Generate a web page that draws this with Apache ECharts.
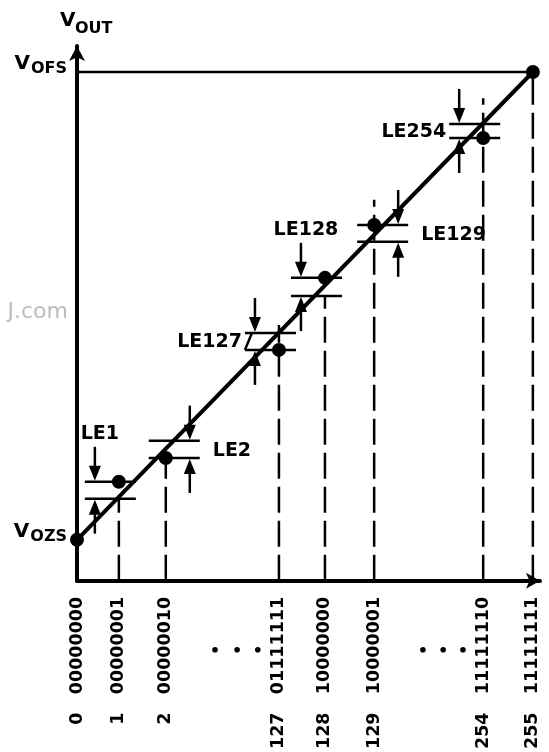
<!DOCTYPE html>
<html>
<head>
<meta charset="utf-8">
<script src="https://cdn.jsdelivr.net/npm/echarts@6/dist/echarts.min.js"></script>
<style>
  html, body { margin: 0; padding: 0; background: #fff; }
  #main { width: 549px; height: 752px; }
</style>
</head>
<body>
<div id="main"></div>
<script>
// input codes, drawn out of scale along the x axis (gaps for the skipped codes)
const codes = ['0', '1', '2', '127', '128', '129', '254', '255'];
const codeBits = ['00000000', '00000001', '00000010', '01111111', '10000000', '10000001', '11111110', '11111111'];
const codeSlot = [0, 0.91, 1.93, 4.39, 5.39, 6.46, 8.83, 9.91];
// output level of each code, 0 = VOZS, 1 = VOFS
const vOut = [0, 0.124, 0.175, 0.406, 0.560, 0.673, 0.859, 1];
// how far up each dashed guide goes
const guideTop = [0, 0.088, 0.175, 0.459, 0.521, 0.727, 0.944, 1];
// linearity errors: which code, and the ideal level it is measured against
const leNames = ['LE1', 'LE2', 'LE127', 'LE128', 'LE129', 'LE254'];
const leCodeIdx = [1, 2, 3, 4, 5, 6];
const leIdeal = [0.088, 0.212, 0.442, 0.521, 0.637, 0.889];
// the "· · ·" between code groups
const ellipsisSlot = [3.0, 3.48, 3.93, 7.52, 7.96, 8.39];

// layout of the LE annotations
const leSide = [-1, 1, -1, -1, 1, -1];
const leLabelAt = ['top', 'right', 'left', 'top', 'right', 'left'];

const FONT = 'DejaVu Sans';
const chart = echarts.init(document.getElementById('main'));

const option = {
  animation: false,
  backgroundColor: '#fff',
  grid: { left: 77, right: 9, top: 46, bottom: 171 },
  xAxis: {
    type: 'value',
    min: 0,
    max: 10.065,
    axisLine: {
      onZero: false,
      symbol: ['none', 'arrow'],
      symbolSize: [12, 14],
      lineStyle: { color: '#000', width: 4 }
    },
    axisTick: { show: false },
    splitLine: { show: false },
    axisLabel: {
      customValues: codeSlot,
      rotate: 90,
      margin: 16,
      fontFamily: FONT,
      fontWeight: 'bold',
      fontSize: 17.5,
      color: '#000',
      formatter: function (v) {
        const i = codeSlot.indexOf(v);
        return i < 0 ? '' : codes[i] + '   ' + codeBits[i];
      }
    }
  },
  yAxis: {
    type: 'value',
    min: -0.0876,
    max: 1.0556,
    axisLine: {
      show: true,
      onZero: false,
      symbol: ['none', 'arrow'],
      symbolSize: [12, 15],
      lineStyle: { color: '#000', width: 4 }
    },
    axisTick: { show: false },
    splitLine: { show: false },
    axisLabel: { show: false }
  },
  series: [
    {
      // ideal transfer line
      type: 'line',
      data: [[codeSlot[0], vOut[0]], [codeSlot[7], vOut[7]]],
      symbol: 'none',
      z: 3,
      lineStyle: { color: '#000', width: 4 }
    },
    {
      // full-scale level
      type: 'line',
      data: [[codeSlot[0], vOut[7]], [codeSlot[7], vOut[7]]],
      symbol: 'none',
      z: 3,
      lineStyle: { color: '#000', width: 2.5 }
    },
    {
      // dashed guides from each code up to its level
      type: 'custom',
      z: 2,
      data: codeSlot.map((s, i) => [s, guideTop[i]]).slice(1),
      renderItem: function (params, api) {
        const top = api.coord([api.value(0), api.value(1)]);
        const bottom = params.coordSys.y + params.coordSys.height;
        return {
          type: 'line',
          shape: { x1: top[0], y1: bottom, x2: top[0], y2: top[1] },
          style: { stroke: '#000', lineWidth: 2.5, lineDash: [26, 8] }
        };
      }
    },
    {
      // LE markers
      type: 'custom',
      z: 4,
      data: leCodeIdx.map((c, i) => [codeSlot[c], vOut[c], leIdeal[i]]),
      renderItem: function (params, api) {
        const i = params.dataIndex;
        const slot = api.value(0), act = api.value(1), ideal = api.value(2);
        const xd = api.coord([slot, act])[0];
        const yHi = api.coord([slot, Math.max(act, ideal)])[1];
        const yLo = api.coord([slot, Math.min(act, ideal)])[1];
        const side = leSide[i];
        const ax = xd + side * 24;
        const x0 = xd + (side < 0 ? -34 : -17);
        const x1 = x0 + 51;
        const st = { stroke: '#000', lineWidth: 2.5 };
        const kids = [
          { type: 'line', shape: { x1: x0, y1: yHi, x2: x1, y2: yHi }, style: st },
          { type: 'line', shape: { x1: x0, y1: yLo, x2: x1, y2: yLo }, style: st },
          { type: 'line', shape: { x1: ax, y1: yHi - 35, x2: ax, y2: yHi - 10 }, style: st },
          { type: 'polygon', shape: { points: [[ax, yHi - 1], [ax - 6, yHi - 16], [ax + 6, yHi - 16]] }, style: { fill: '#000' } },
          { type: 'line', shape: { x1: ax, y1: yLo + 35, x2: ax, y2: yLo + 10 }, style: st },
          { type: 'polygon', shape: { points: [[ax, yLo + 1], [ax - 6, yLo + 16], [ax + 6, yLo + 16]] }, style: { fill: '#000' } }
        ];
        const where = leLabelAt[i];
        const mid = (yHi + yLo) / 2;
        let tx, ty, align, valign;
        if (where === 'top') {
          tx = ax + 5; ty = yHi - 38; align = 'center'; valign = 'bottom';
        } else if (where === 'right') {
          tx = x1 + 13; ty = mid + 2; align = 'left'; valign = 'middle';
        } else {
          tx = x0 - 3; ty = mid + 1; align = 'right'; valign = 'middle';
          if (leNames[i] === 'LE127') {
            kids.push({ type: 'line', shape: { x1: x0, y1: yLo, x2: x0 + 7, y2: yHi }, style: st });
          }
        }
        kids.push({
          type: 'text',
          style: {
            text: leNames[i], x: tx, y: ty, align: align, verticalAlign: valign,
            fontFamily: FONT, fontWeight: 'bold', fontSize: 19, fill: '#000'
          }
        });
        return { type: 'group', children: kids };
      }
    },
    {
      // actual outputs
      type: 'scatter',
      z: 5,
      symbolSize: 14,
      itemStyle: { color: '#000', opacity: 1 },
      data: codeSlot.map((s, i) => [s, vOut[i]])
    }
  ]
};

chart.setOption(option);

// text labels and the ellipsis dots, placed from the axes' own scales
const ctx = document.createElement('canvas').getContext('2d');
function textWidth(t, size) {
  ctx.font = 'bold ' + size + 'px "' + FONT + '"';
  return ctx.measureText(t).width;
}
function vLabel(sub, level) {
  const p = chart.convertToPixel({ gridIndex: 0 }, [0, level]);
  const right = p[0] - 10;
  const w = textWidth(sub, 16);
  return [
    { type: 'text', style: { text: 'V', x: right - w - 1, y: p[1] - 8.5, align: 'right', verticalAlign: 'middle', fontFamily: FONT, fontWeight: 'bold', fontSize: 20, fill: '#000' } },
    { type: 'text', style: { text: sub, x: right, y: p[1] - 3, align: 'right', verticalAlign: 'middle', fontFamily: FONT, fontWeight: 'bold', fontSize: 16, fill: '#000' } }
  ];
}

const axisX = chart.convertToPixel({ gridIndex: 0 }, [0, 0])[0];
const tipY = chart.convertToPixel({ gridIndex: 0 }, [0, option.yAxis.max])[1] - 7;
const baseY = chart.convertToPixel({ gridIndex: 0 }, [0, option.yAxis.min])[1];

const graphics = [
  { type: 'text', style: { text: 'V', x: axisX - 17, y: tipY - 18.5, align: 'left', verticalAlign: 'middle', fontFamily: FONT, fontWeight: 'bold', fontSize: 20, fill: '#000' } },
  { type: 'text', style: { text: 'OUT', x: axisX - 2, y: tipY - 10.5, align: 'left', verticalAlign: 'middle', fontFamily: FONT, fontWeight: 'bold', fontSize: 16, fill: '#000' } },
  { type: 'text', z: -1, style: { text: 'J.com', x: 68, y: 312, align: 'right', verticalAlign: 'middle', fontFamily: FONT, fontSize: 22, fill: '#bdbdbd' } }
].concat(vLabel('OFS', 1), vLabel('OZS', 0));

ellipsisSlot.forEach(function (s) {
  const p = chart.convertToPixel({ gridIndex: 0 }, [s, 0]);
  graphics.push({ type: 'circle', shape: { cx: p[0], cy: baseY + 69, r: 2.8 }, style: { fill: '#000' } });
});

chart.setOption({ graphic: graphics });
</script>
</body>
</html>
